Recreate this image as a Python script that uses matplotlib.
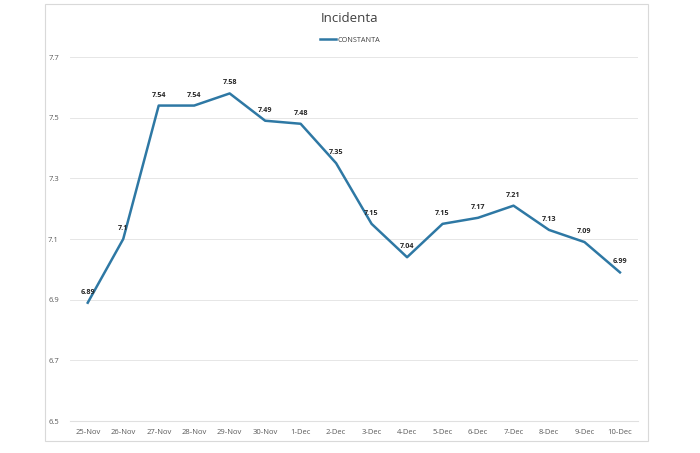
import matplotlib
matplotlib.use("Agg")
import matplotlib.pyplot as plt
from matplotlib.patches import Rectangle

dates = ["25-Nov", "26-Nov", "27-Nov", "28-Nov", "29-Nov", "30-Nov", "1-Dec", "2-Dec",
         "3-Dec", "4-Dec", "5-Dec", "6-Dec", "7-Dec", "8-Dec", "9-Dec", "10-Dec"]
constanta = [6.89, 7.1, 7.54, 7.54, 7.58, 7.49, 7.48, 7.35,
             7.15, 7.04, 7.15, 7.17, 7.21, 7.13, 7.09, 6.99]
y_ticks = [6.5, 6.7, 6.9, 7.1, 7.3, 7.5, 7.7]

LINE_COLOR = "#2E78A4"
TEXT_COLOR = "#595959"

plt.rcParams["font.family"] = ["Open Sans", "DejaVu Sans"]

fig = plt.figure(figsize=(7, 4.53), dpi=100)
# outer chart border
fig.patches.append(Rectangle((45 / 700, 1 - 441 / 453), 603 / 700, 437 / 453,
                             transform=fig.transFigure, fill=False,
                             edgecolor="#D9D9D9", linewidth=0.8))

ax = fig.add_axes([0.1, 0.0706, 0.811, 0.8035])
x = list(range(len(dates)))
ax.plot(x, constanta, color=LINE_COLOR, linewidth=1.8, label="CONSTANTA")

for xi, v in zip(x, constanta):
    ax.annotate(f"{v:g}", (xi, v), xytext=(0, 5), textcoords="offset points",
                ha="center", va="bottom", fontsize=5.2, fontweight="bold", color="#262626")

ax.set_xlim(-0.5, len(dates) - 0.5)
ax.set_ylim(6.5, 7.7)
ax.set_yticks(y_ticks)
ax.set_yticklabels([f"{t:g}" for t in y_ticks])
ax.set_xticks(x)
ax.set_xticklabels(dates)
ax.tick_params(axis="both", length=0, labelsize=5.5, colors=TEXT_COLOR)
ax.tick_params(axis="x", pad=6)
ax.tick_params(axis="y", pad=8)
ax.grid(axis="y", color="#E6E6E6", linewidth=0.7)
ax.set_axisbelow(True)
for side in ["left", "right", "top"]:
    ax.spines[side].set_visible(False)
ax.spines["bottom"].set_color("#E0E0E0")
ax.spines["bottom"].set_linewidth(0.8)

fig.text(0.5, 1 - 18 / 453, "Incidenta", ha="center", va="center", fontsize=9.5, color="#404040")
fig.legend(loc="center", bbox_to_anchor=(0.5, 1 - 40 / 453), frameon=False, fontsize=5.2,
           handlelength=2.2, handletextpad=0.2, labelcolor="#404040")

fig.savefig("out.png", dpi=100)
